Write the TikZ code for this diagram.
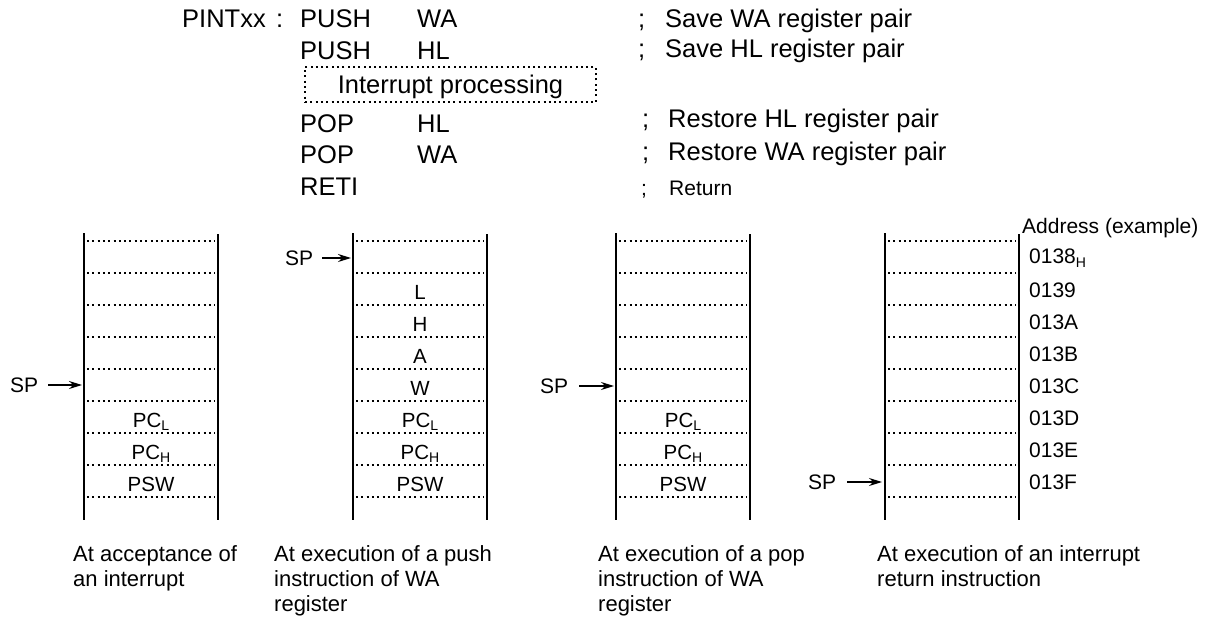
\documentclass[tikz,border=0pt]{standalone}
\usepackage{fontspec}
\setmainfont{Liberation Sans}
\usetikzlibrary{arrows.meta}
\newcommand{\lsub}[1]{\raisebox{-0.35ex}{\fontsize{14}{14}\selectfont #1}}
\begin{document}
\begin{tikzpicture}[x=1pt,y=-1pt,
  code/.style={anchor=base west,inner sep=0pt,font=\fontsize{25.5}{30}\selectfont},
  small/.style={anchor=base west,inner sep=0pt,font=\fontsize{21}{25}\selectfont},
  dots/.style={line width=2pt,dash pattern=on 2pt off 3.3pt},
  wall/.style={line width=2pt},
  cell/.style={anchor=base,inner sep=0pt,font=\fontsize{20.5}{24}\selectfont},
  addr/.style={anchor=west,inner sep=0pt,font=\fontsize{21}{24}\selectfont},
  sptext/.style={anchor=west,inner sep=0pt,font=\fontsize{21}{24}\selectfont},
  arr/.style={line width=1.5pt,-{Stealth[length=13pt,width=8pt]}},
  caption/.style={anchor=north west,inner sep=0pt,align=left,font=\fontsize{22}{25}\selectfont},
  dotbox/.style={draw,dots,inner sep=0pt,minimum width=291pt,minimum height=35pt,
    text height=21pt,text depth=2pt,font=\fontsize{25.5}{30}\selectfont}
]
\useasboundingbox (0,0) rectangle (1220,623);

% ---- code listing ----
\node[code] (lbl) at (182,28) {PINTxx};
\node[code] (colon) at (276,28) {:};
\node[code] (i1) at (300,28) {PUSH};
\node[code] (o1) at (417,28) {WA};
\node[code] (i2) at (300,60) {PUSH};
\node[code] (o2) at (417,60) {HL};
\node[dotbox] (ip) at (450.5,84.5) {Interrupt processing};
\node[code] (i3) at (300,132) {POP};
\node[code] (o3) at (417,132) {HL};
\node[code] (i4) at (300,163) {POP};
\node[code] (o4) at (417,163) {WA};
\node[code] (i5) at (300,195) {RETI};

\node[code] (s1) at (638,28) {;};
\node[code] (c1) at (665,28) {Save WA register pair};
\node[code] (s2) at (638,58) {;};
\node[code] (c2) at (665,58) {Save HL register pair};
\node[code] (s3) at (642,128) {;};
\node[code] (c3) at (668,128) {Restore HL register pair};
\node[code] (s4) at (642,160) {;};
\node[code] (c4) at (668,160) {Restore WA register pair};
\node[small] (s5) at (641,195) {;};
\node[small] (c5) at (669,195) {Return};

% ---- stacks ----
\foreach \L/\R in {84/218, 353/487, 616/750, 885/1019}{
  \draw[wall] (\L,233) -- (\L,520);
  \draw[wall] (\R,234) -- (\R,520);
  \foreach \k in {0,...,8}{
    \draw[dots] ({\L+3},{241+32*\k}) -- ({\R-3},{241+32*\k});
  }
}

% column 1
\node[cell] (a6) at (151,427) {PC\lsub{L}};
\node[cell] (a7) at (151,459) {PC\lsub{H}};
\node[cell] (a8) at (151,491) {PSW};
\node[sptext] (sp1) at (10,385) {SP};
\coordinate (t1) at (82,385);
\draw[arr,shorten <=10pt] (sp1.east) -- (t1);

% column 2
\node[cell] (b2) at (420,299) {L};
\node[cell] (b3) at (420,331) {H};
\node[cell] (b4) at (420,363) {A};
\node[cell] (b5) at (420,395) {W};
\node[cell] (b6) at (420,427) {PC\lsub{L}};
\node[cell] (b7) at (420,459) {PC\lsub{H}};
\node[cell] (b8) at (420,491) {PSW};
\node[sptext] (sp2) at (285,258) {SP};
\coordinate (t2) at (351,258);
\draw[arr,shorten <=9pt] (sp2.east) -- (t2);

% column 3
\node[cell] (d6) at (683,427) {PC\lsub{L}};
\node[cell] (d7) at (683,459) {PC\lsub{H}};
\node[cell] (d8) at (683,491) {PSW};
\node[sptext] (sp3) at (540,386) {SP};
\coordinate (t3) at (614,386);
\draw[arr,shorten <=11pt] (sp3.east) -- (t3);

% column 4
\node[addr] (adr) at (1022,228) {Address (example)};
\node[addr] (e1) at (1029,258) {0138\lsub{H}};
\node[addr] (e2) at (1029,290) {0139};
\node[addr] (e3) at (1029,322) {013A};
\node[addr] (e4) at (1029,354) {013B};
\node[addr] (e5) at (1029,386) {013C};
\node[addr] (e6) at (1029,418) {013D};
\node[addr] (e7) at (1029,450) {013E};
\node[addr] (e8) at (1029,482) {013F};
\node[sptext] (sp4) at (808,482) {SP};
\coordinate (t4) at (882,482);
\draw[arr,shorten <=11pt] (sp4.east) -- (t4);

% ---- captions ----
\node[caption] (cap1) at (73,545) {At acceptance of\\an interrupt};
\node[caption] (cap2) at (274,545) {At execution of a push\\instruction of WA\\register};
\node[caption] (cap3) at (598,545) {At execution of a pop\\instruction of WA\\register};
\node[caption] (cap4) at (877,545) {At execution of an interrupt\\return instruction};
\end{tikzpicture}
\end{document}
